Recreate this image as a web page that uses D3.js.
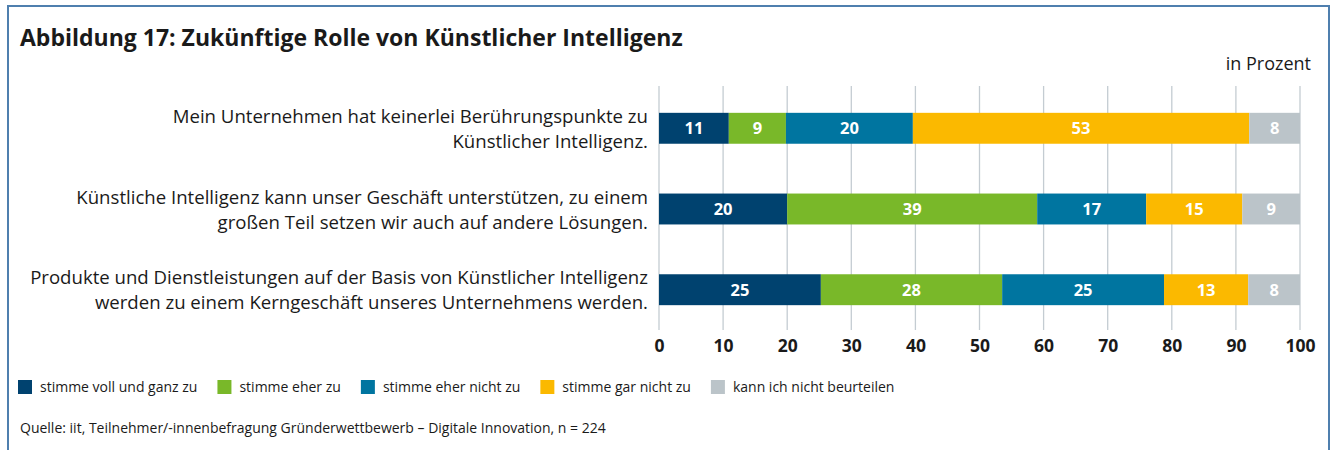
<!DOCTYPE html>
<html><head><meta charset="utf-8">
<script src="https://cdn.jsdelivr.net/npm/d3@7"></script>
<style>
html,body{margin:0;padding:0;background:#fff;}
svg{display:block;font-family:"Open Sans", "Noto Sans", sans-serif;}
</style></head>
<body>
<svg id="chart" width="1335" height="450"></svg>
<script>
const title = "Abbildung 17: Zukünftige Rolle von Künstlicher Intelligenz";
const unitLabel = "in Prozent";
const source = "Quelle: iit, Teilnehmer/-innenbefragung Gründerwettbewerb – Digitale Innovation, n = 224";
const categories = [
  ["Mein Unternehmen hat keinerlei Berührungspunkte zu", "Künstlicher Intelligenz."],
  ["Künstliche Intelligenz kann unser Geschäft unterstützen, zu einem", "großen Teil setzen wir auch auf andere Lösungen."],
  ["Produkte und Dienstleistungen auf der Basis von Künstlicher Intelligenz", "werden zu einem Kerngeschäft unseres Unternehmens werden."]
];
const seriesNames = ["stimme voll und ganz zu", "stimme eher zu", "stimme eher nicht zu", "stimme gar nicht zu", "kann ich nicht beurteilen"];
const seriesColors = ["#00426f", "#79b829", "#0075a0", "#fbb900", "#bbc4c9"];
const voll = [11, 20, 25];
const eher = [9, 39, 28];
const eherNicht = [20, 17, 25];
const garNicht = [53, 15, 13];
const nichtBeurteilen = [8, 9, 8];
const ticks = [0, 10, 20, 30, 40, 50, 60, 70, 80, 90, 100];

const series = [voll, eher, eherNicht, garNicht, nichtBeurteilen];
const svg = d3.select("#chart");
const ink = "#1a1a1a";

// frame
svg.append("path")
  .attr("d", "M8,451 L8,6 L1329,6 L1329,451")
  .attr("fill", "none").attr("stroke", "#4f7fae").attr("stroke-width", 2);

svg.append("text").attr("x", 20).attr("y", 46)
  .attr("font-size", 23).attr("font-weight", 700).attr("fill", ink).text(title);

svg.append("text").attr("x", 1311).attr("y", 70).attr("text-anchor", "end")
  .attr("font-size", 18).attr("fill", ink).text(unitLabel);

const x = d3.scaleLinear().domain([0, 100]).range([659, 1300]);
const y = d3.scaleBand().domain(d3.range(categories.length)).range([87, 331]).paddingInner(0.617).paddingOuter(0.32);

// gridlines
svg.append("g").selectAll("line").data(ticks).join("line")
  .attr("x1", d => x(d)).attr("x2", d => x(d))
  .attr("y1", 86).attr("y2", 330)
  .attr("stroke", "#c4ccd2").attr("stroke-width", 1.3);

// axis labels
const axis = svg.append("g").attr("transform", "translate(0,330)")
  .call(d3.axisBottom(x).tickValues(ticks).tickSize(0).tickPadding(10).tickFormat(d3.format("d")));
axis.select(".domain").remove();
axis.selectAll("text").attr("font-size", 17.5).attr("font-weight", 700).attr("fill", ink)
  .attr("font-family", "'Open Sans', 'Noto Sans', sans-serif");

// stacked bars
const rows = categories.map((c, i) => {
  const vals = series.map(s => s[i]);
  const total = d3.sum(vals);
  let acc = 0;
  return vals.map((v, k) => {
    const x0 = acc / total * 100; acc += v;
    return { row: i, k, v, x0, x1: acc / total * 100 };
  });
});
const segs = rows.flat();
const bars = svg.append("g");
bars.selectAll("rect").data(segs).join("rect")
  .attr("x", d => x(d.x0)).attr("width", d => x(d.x1) - x(d.x0))
  .attr("y", d => y(d.row)).attr("height", y.bandwidth())
  .attr("fill", d => seriesColors[d.k]);
bars.selectAll("text").data(segs).join("text")
  .attr("x", d => (x(d.x0) + x(d.x1)) / 2)
  .attr("y", d => y(d.row) + y.bandwidth() / 2)
  .attr("dy", "0.36em").attr("text-anchor", "middle")
  .attr("font-size", 16.5).attr("font-weight", 700).attr("fill", "#fff")
  .text(d => d.v);

// category labels
const labs = svg.append("g");
categories.forEach((lines, i) => {
  const cy = y(i) + y.bandwidth() / 2;
  lines.forEach((t, j) => {
    labs.append("text").attr("x", 648).attr("y", cy - 12 + j * 25)
      .attr("dy", "0.36em").attr("text-anchor", "end")
      .attr("font-size", 18.6).attr("fill", ink).text(t);
  });
});

// legend
const leg = svg.append("g").attr("transform", "translate(18,380)");
let lx = 0;
seriesNames.forEach((n, k) => {
  const g = leg.append("g").attr("transform", `translate(${lx},0)`);
  g.append("rect").attr("width", 14).attr("height", 14).attr("fill", seriesColors[k]);
  const t = g.append("text").attr("x", 22).attr("y", 7).attr("dy", "0.36em")
    .attr("font-size", 14).attr("fill", ink).text(n);
  lx += 22 + t.node().getComputedTextLength() + 20;
});

svg.append("text").attr("x", 20).attr("y", 433)
  .attr("font-size", 14).attr("fill", ink).text(source);
</script>
</body></html>
